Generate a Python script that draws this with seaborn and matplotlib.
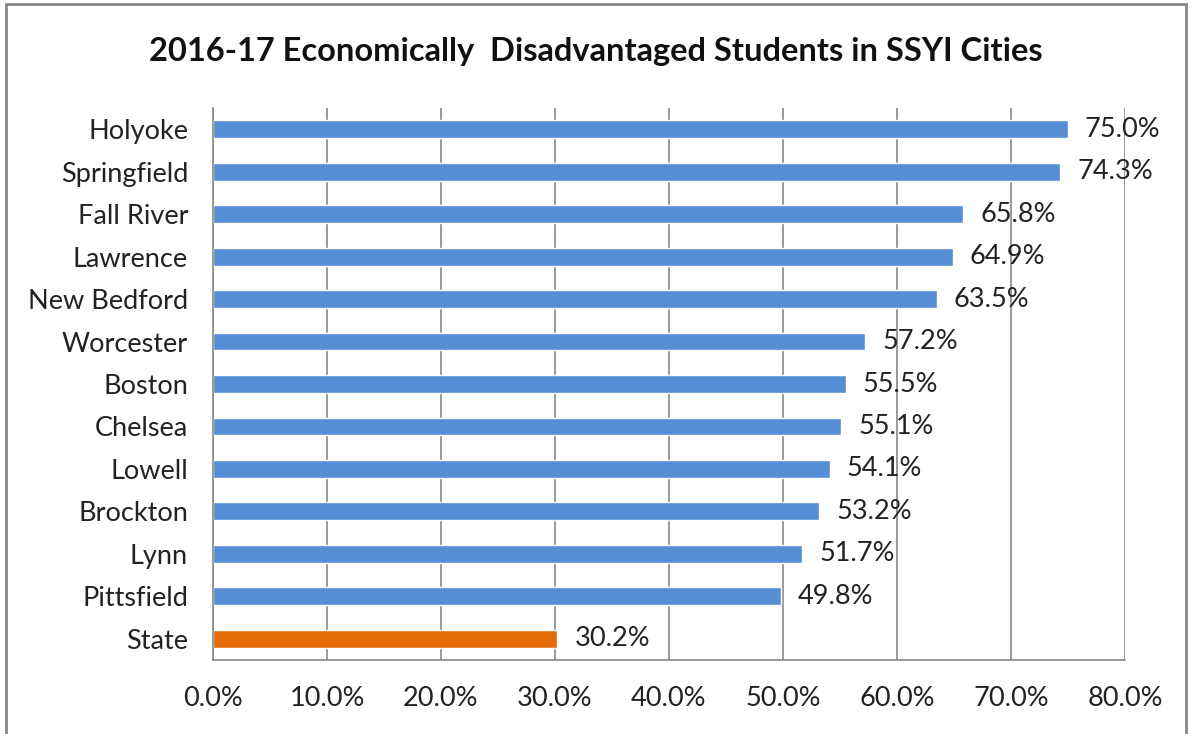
import matplotlib
matplotlib.use('Agg')
import matplotlib.pyplot as plt
import seaborn as sns
import pandas as pd
from matplotlib.patches import Rectangle
from matplotlib.ticker import FixedLocator

# Values
cities = ['Holyoke', 'Springfield', 'Fall River', 'Lawrence', 'New Bedford', 'Worcester',
          'Boston', 'Chelsea', 'Lowell', 'Brockton', 'Lynn', 'Pittsfield', 'State']
pct = [75.0, 74.3, 65.8, 64.9, 63.5, 57.2, 55.5, 55.1, 54.1, 53.2, 51.7, 49.8, 30.2]
bar_colors = ['#558ED5'] * 12 + ['#E46C0A']
x_ticks = [0, 10, 20, 30, 40, 50, 60, 70, 80]

df = pd.DataFrame({'city': cities, 'pct': pct})

sns.set_style('white')
plt.rcParams['font.family'] = ['Lato', 'DejaVu Sans']

fig = plt.figure(figsize=(11.92, 7.34), dpi=100)
ax = fig.add_axes([0.1787, 0.1008, 0.765, 0.752])

sns.barplot(data=df, y='city', x='pct', hue='city', palette=bar_colors,
            legend=False, width=0.42, orient='h', ax=ax, saturation=1)

ax.set_xlim(0, 80)
ax.set_ylim(len(cities) - 0.5, -0.5)
ax.set_xticks(x_ticks)
ax.set_xticklabels([f'{t:.1f}%' for t in x_ticks], fontsize=19.5, color='#222222')
ax.tick_params(axis='x', direction='out', length=8, width=1.2, color='#888888', pad=11)
ax.tick_params(axis='y', which='major', length=0, pad=18, labelsize=19.5, labelcolor='#222222')
ax.yaxis.set_minor_locator(FixedLocator([i - 0.5 for i in range(len(cities) + 1)]))
ax.tick_params(axis='y', which='minor', direction='out', length=6, width=1.2, color='#888888')
ax.grid(axis='x', color='#888888', linewidth=1.2)
ax.set_axisbelow(True)
for side in ['top', 'right']:
    ax.spines[side].set_visible(False)
for side in ['left', 'bottom']:
    ax.spines[side].set_color('#888888')
    ax.spines[side].set_linewidth(1.2)
ax.set_xlabel('')
ax.set_ylabel('')

for i, v in enumerate(pct):
    ax.text(v + 1.5, i, f'{v:.1f}%', va='center', ha='left', fontsize=19.5, color='#222222')

fig.text(0.5, 0.93, '2016-17 Economically  Disadvantaged Students in SSYI Cities',
         ha='center', va='center', fontsize=23.5, fontweight='bold', color='#111111')

fig.patches.append(Rectangle((0.005, -0.05), 0.99, 1.045, transform=fig.transFigure,
                             fill=False, edgecolor='#888888', linewidth=2))

fig.savefig('out.png', dpi=100)
